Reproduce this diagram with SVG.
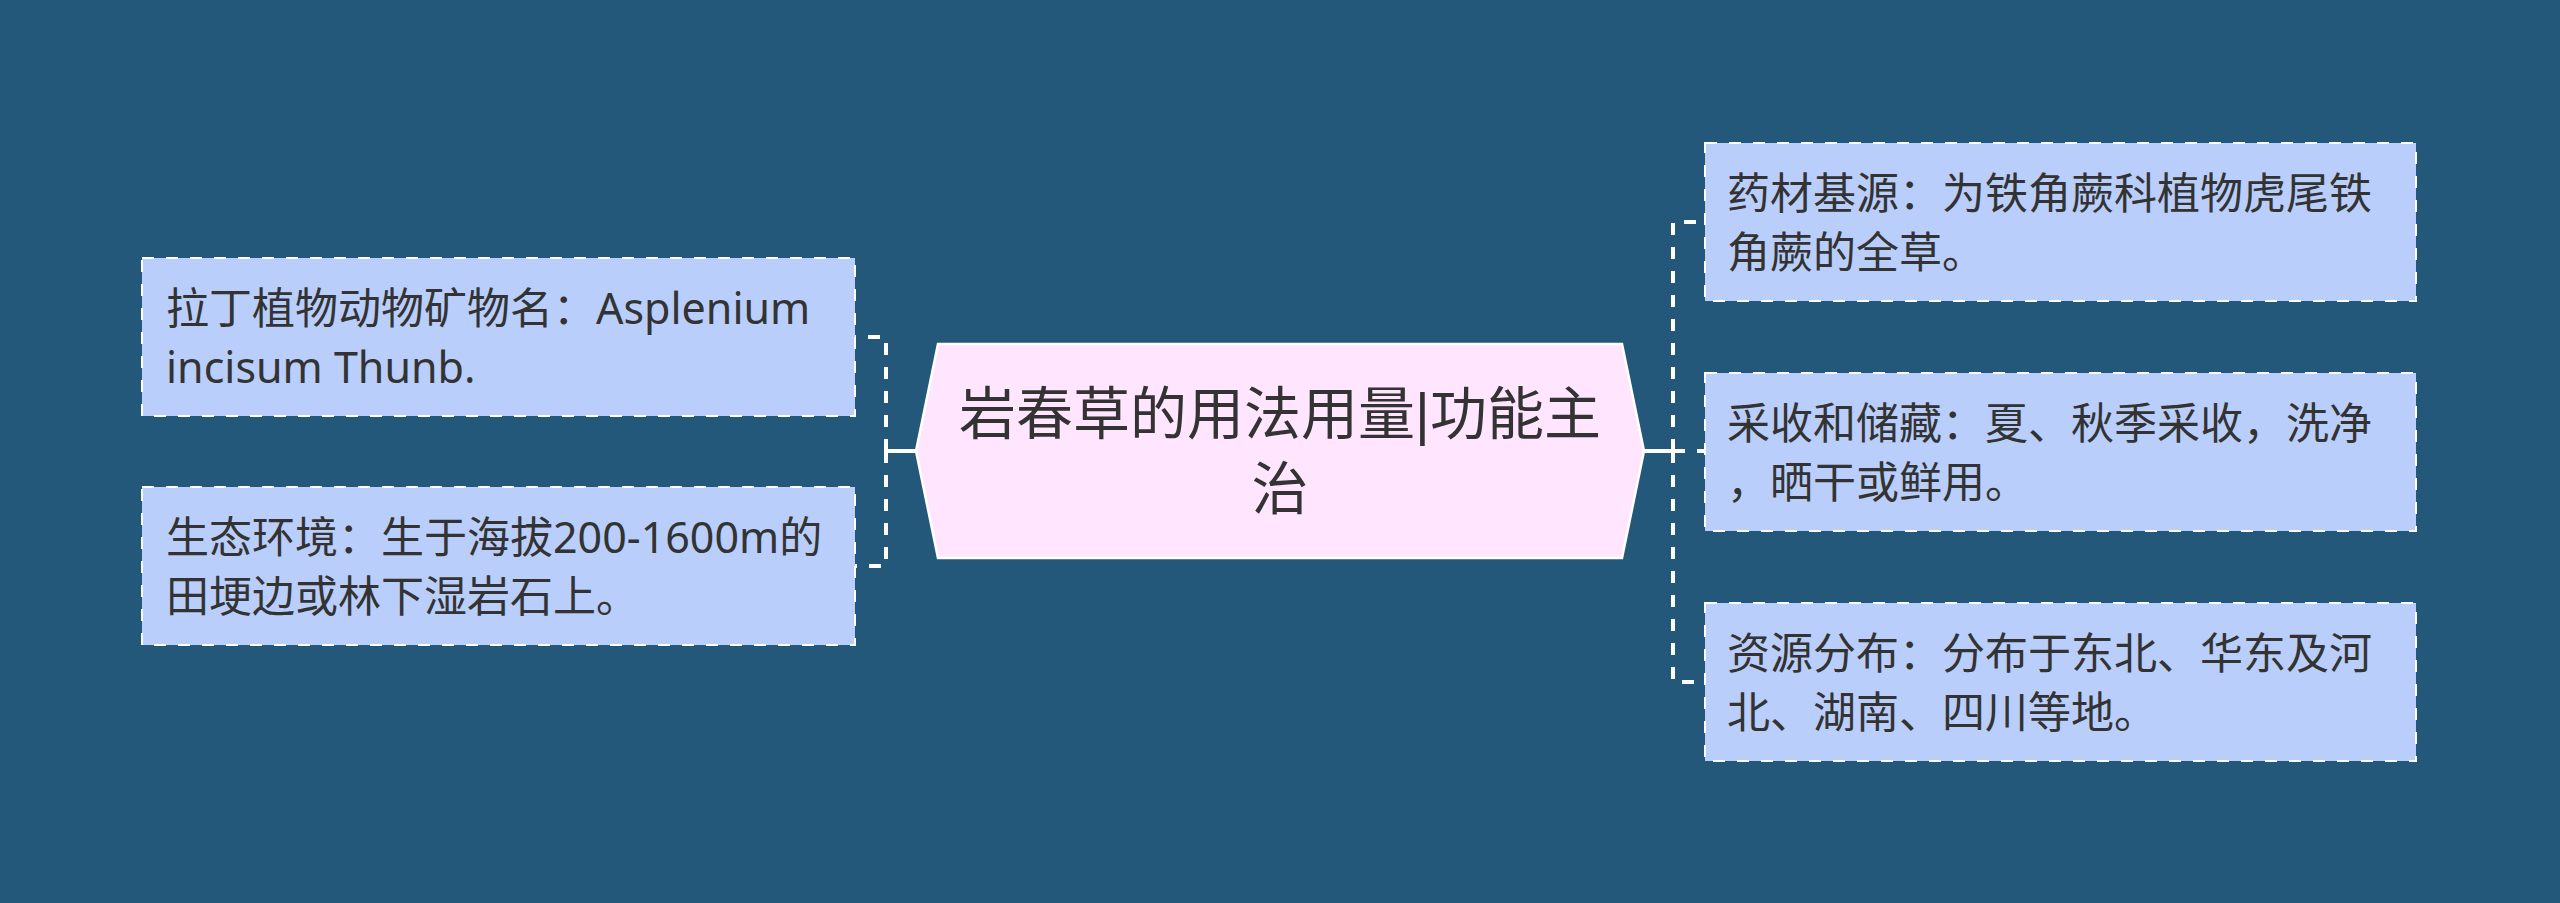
<svg xmlns="http://www.w3.org/2000/svg" width="2560" height="903" viewBox="0 0 2560 903">
<style>
.bg{fill:#23587A}
.conn{fill:none;stroke:#ffffff;stroke-width:4}
.dash{stroke-dasharray:12 12}
.child rect{fill:#B9CEFA;stroke:#ffffff;stroke-width:2;stroke-dasharray:12 12}
.child text{font-family:"Noto Sans","Noto Sans CJK SC",sans-serif;font-size:43px;fill:#333333}
.center polygon{fill:#FFE5FE;stroke:#ffffff;stroke-width:2.5}
.center text{font-family:"Noto Sans","Noto Sans CJK SC",sans-serif;font-size:57px;fill:#333333;text-anchor:middle}
.bar{font-family:"Liberation Sans",sans-serif}
</style>
<rect class="bg" x="0" y="0" width="2560" height="903"/>
<g id="connectors">
<path class="conn" d="M916 451H886M1644 451H1673"/>
<path class="conn dash" d="M886 451V337H855"/>
<path class="conn dash" d="M886 451V566H855"/>
<path class="conn dash" d="M1673 451V222H1705"/>
<path class="conn dash" d="M1673 451H1705"/>
<path class="conn dash" d="M1673 451V682H1705"/>
</g>
<g id="center" class="center">
<polygon points="916,451 938,344 1622,344 1644,451 1622,558 938,558"/>
<text x="1280" y="434">岩春草的用法用量<tspan class="bar">|</tspan>功能主</text>
<text x="1280" y="509">治</text>
</g>
<g id="left1" class="child">
<rect x="142" y="258" width="713" height="158"/>
<text x="166" y="323.5">拉丁植物动物矿物名：Asplenium</text>
<text x="166" y="382.5">incisum Thunb.</text>
</g>
<g id="left2" class="child">
<rect x="142" y="487" width="713" height="158"/>
<text x="166" y="552.5">生态环境：生于海拔200-1600m的</text>
<text x="166" y="611.5">田埂边或林下湿岩石上。</text>
</g>
<g id="right1" class="child">
<rect x="1705" y="143" width="711" height="158"/>
<text x="1727" y="208.5">药材基源：为铁角蕨科植物虎尾铁</text>
<text x="1727" y="267.5">角蕨的全草。</text>
</g>
<g id="right2" class="child">
<rect x="1705" y="373" width="711" height="158"/>
<text x="1727" y="438.5">采收和储藏：夏、秋季采收，洗净</text>
<text x="1727" y="497.5">，晒干或鲜用。</text>
</g>
<g id="right3" class="child">
<rect x="1705" y="603" width="711" height="158"/>
<text x="1727" y="668.5">资源分布：分布于东北、华东及河</text>
<text x="1727" y="727.5">北、湖南、四川等地。</text>
</g>
</svg>
